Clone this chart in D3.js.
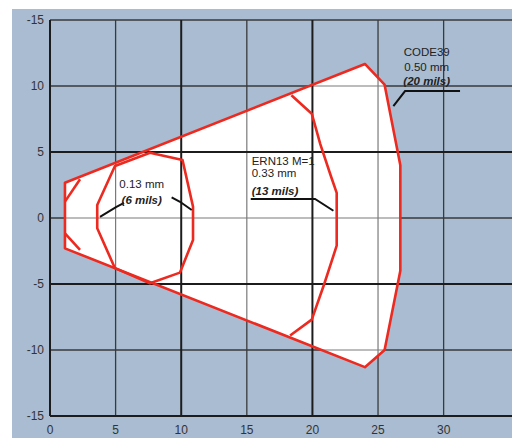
<!DOCTYPE html>
<html>
<head>
<meta charset="utf-8">
<script src="https://cdn.jsdelivr.net/npm/d3@7"></script>
<style>
  body { margin: 0; background: #fff; }
  svg { display: block; font-family: "Liberation Sans", Arial, sans-serif; }
</style>
</head>
<body>
<div id="chart"></div>
<script>
// axis ticks
const xTicks = [0, 5, 10, 15, 20, 25, 30];
const yTicks = [15, 10, 5, 0, -5, -10, -15];
const yTickLabels = ['-15', '10', '5', '0', '-5', '-10', '-15'];
const xThick = [0, 10, 20];
const yThick = [5, -5, -15];

// CODE39 0.50 mm reading envelope (outer)
const envelope = [[1.14, 2.67], [24.0, 11.67], [25.5, 10.1], [26.7, 4.0], [26.7, -4.0],
  [25.5, -10.0], [24.0, -11.3], [1.14, -2.3]];
// ERN13 0.33 mm far boundary
const ern13 = [[18.4, 9.3], [19.95, 7.9], [20.6, 5.6], [21.4, 3.2], [21.85, 1.9], [21.85, -2.1],
  [20.9, -5.0], [19.95, -7.7], [18.3, -8.9]];
// 0.13 mm zone
const zone13 = [[4.95, 3.94], [3.6, 0.98], [3.6, -0.78], [4.95, -3.8], [7.62, -4.95],
  [9.9, -4.14], [10.9, -1.67], [10.9, 0.86], [10.1, 4.39], [7.62, 4.95]];
// near-field corners
const nearTop = [[2.29, 2.93], [1.14, 1.24]];
const nearBottom = [[1.14, -1.16], [2.29, -2.42]];

// labels and leader lines
const labels = [
  {x: 28.71, anchor: 'middle', lines: [['CODE39', 12.27, false], ['0.50 mm', 11.16, false], ['(20 mils)', 10.08, true]]},
  {x: 15.37, anchor: 'start', lines: [['ERN13 M=1', 4.0, false], ['0.33 mm', 3.1, false], ['(13 mils)', 1.74, true]]},
  {x: 6.99, anchor: 'middle', lines: [['0.13 mm', 2.27, false], ['(6 mils)', 1.06, true]]}
];
const leaders = [
  [[26.17, 8.48], [27.06, 9.62], [31.25, 9.62]],
  [[15.3, 1.44], [20.2, 1.44], [21.6, 0.55]],
  [[3.81, 0.08], [5.03, 0.83], [5.64, 1.14]],
  [[9.27, 1.57], [9.91, 1.23], [10.8, 0.61]]
];

const width = 512, height = 438;
const svg = d3.select('#chart').append('svg')
  .attr('width', width).attr('height', height);

svg.append('rect')
  .attr('x', 12).attr('y', 9).attr('width', width - 12).attr('height', height - 9)
  .attr('fill', '#a9bcd1');

const x = d3.scaleLinear([0, 35.5], [50, 515.8]);
const y = d3.scaleLinear([-15, 15], [416, 20]);
const line = d3.line(d => x(d[0]), d => y(d[1]));

svg.append('clipPath').attr('id', 'env')
  .append('path').attr('d', line(envelope) + 'Z');

function drawGrid(g, thick){
  const xs = xTicks.filter(d => xThick.includes(d) === thick),
    ys = yTicks.filter(d => yThick.includes(d) === thick);
  g.selectAll('line.v').data(xs).join('line').classed('v', true)
    .attr('x1', d => x(d)).attr('x2', d => x(d))
    .attr('y1', y(15)).attr('y2', y(-15));
  g.selectAll('line.h').data(ys).join('line').classed('h', true)
    .attr('x1', x(0)).attr('x2', width)
    .attr('y1', d => y(d)).attr('y2', d => y(d));
}

// thin grid on the blue
drawGrid(svg.append('g').attr('stroke', '#3a3a3a').attr('stroke-width', 1.3), false);

svg.append('path')
  .attr('d', line(envelope) + 'Z')
  .attr('fill', '#fff');

// thin grid inside the white envelope, lighter
drawGrid(svg.append('g').attr('clip-path', 'url(#env)')
  .attr('stroke', '#7a7a7a').attr('stroke-width', 1.2), false);

// thick grid
drawGrid(svg.append('g').attr('stroke', '#1c1c1c').attr('stroke-width', 2), true);

// tick labels
svg.append('g').selectAll('text').data(yTicks).join('text')
  .attr('x', 44).attr('y', d => y(d)).attr('dy', '0.35em')
  .attr('text-anchor', 'end').attr('font-size', 12).attr('fill', '#333')
  .text((d, i) => yTickLabels[i]);
svg.append('g').selectAll('text').data(xTicks).join('text')
  .attr('x', d => x(d)).attr('y', 434)
  .attr('text-anchor', 'middle').attr('font-size', 12).attr('fill', '#333')
  .text(d => d);

// zones
const red = svg.append('g').attr('fill', 'none').attr('stroke', '#ec2a20')
  .attr('stroke-width', 2.6).attr('stroke-linejoin', 'round');
red.append('path').attr('d', line(envelope) + 'Z');
red.append('path').attr('d', line(ern13));
red.append('path').attr('d', line(zone13) + 'Z');
red.append('path').attr('d', line(nearTop));
red.append('path').attr('d', line(nearBottom));

// leaders
svg.append('g').selectAll('path').data(leaders).join('path')
  .attr('d', d => line(d)).attr('fill', 'none')
  .attr('stroke', '#111').attr('stroke-width', 2);

// labels
labels.forEach(l => {
  l.lines.forEach(([t, yy, it]) => {
    svg.append('text')
      .attr('x', x(l.x)).attr('y', y(yy))
      .attr('text-anchor', l.anchor)
      .attr('font-size', 11.5).attr('fill', '#222')
      .attr('font-style', it ? 'italic' : 'normal')
      .attr('font-weight', it ? 'bold' : 'normal')
      .text(t);
  });
});
</script>
</body>
</html>
